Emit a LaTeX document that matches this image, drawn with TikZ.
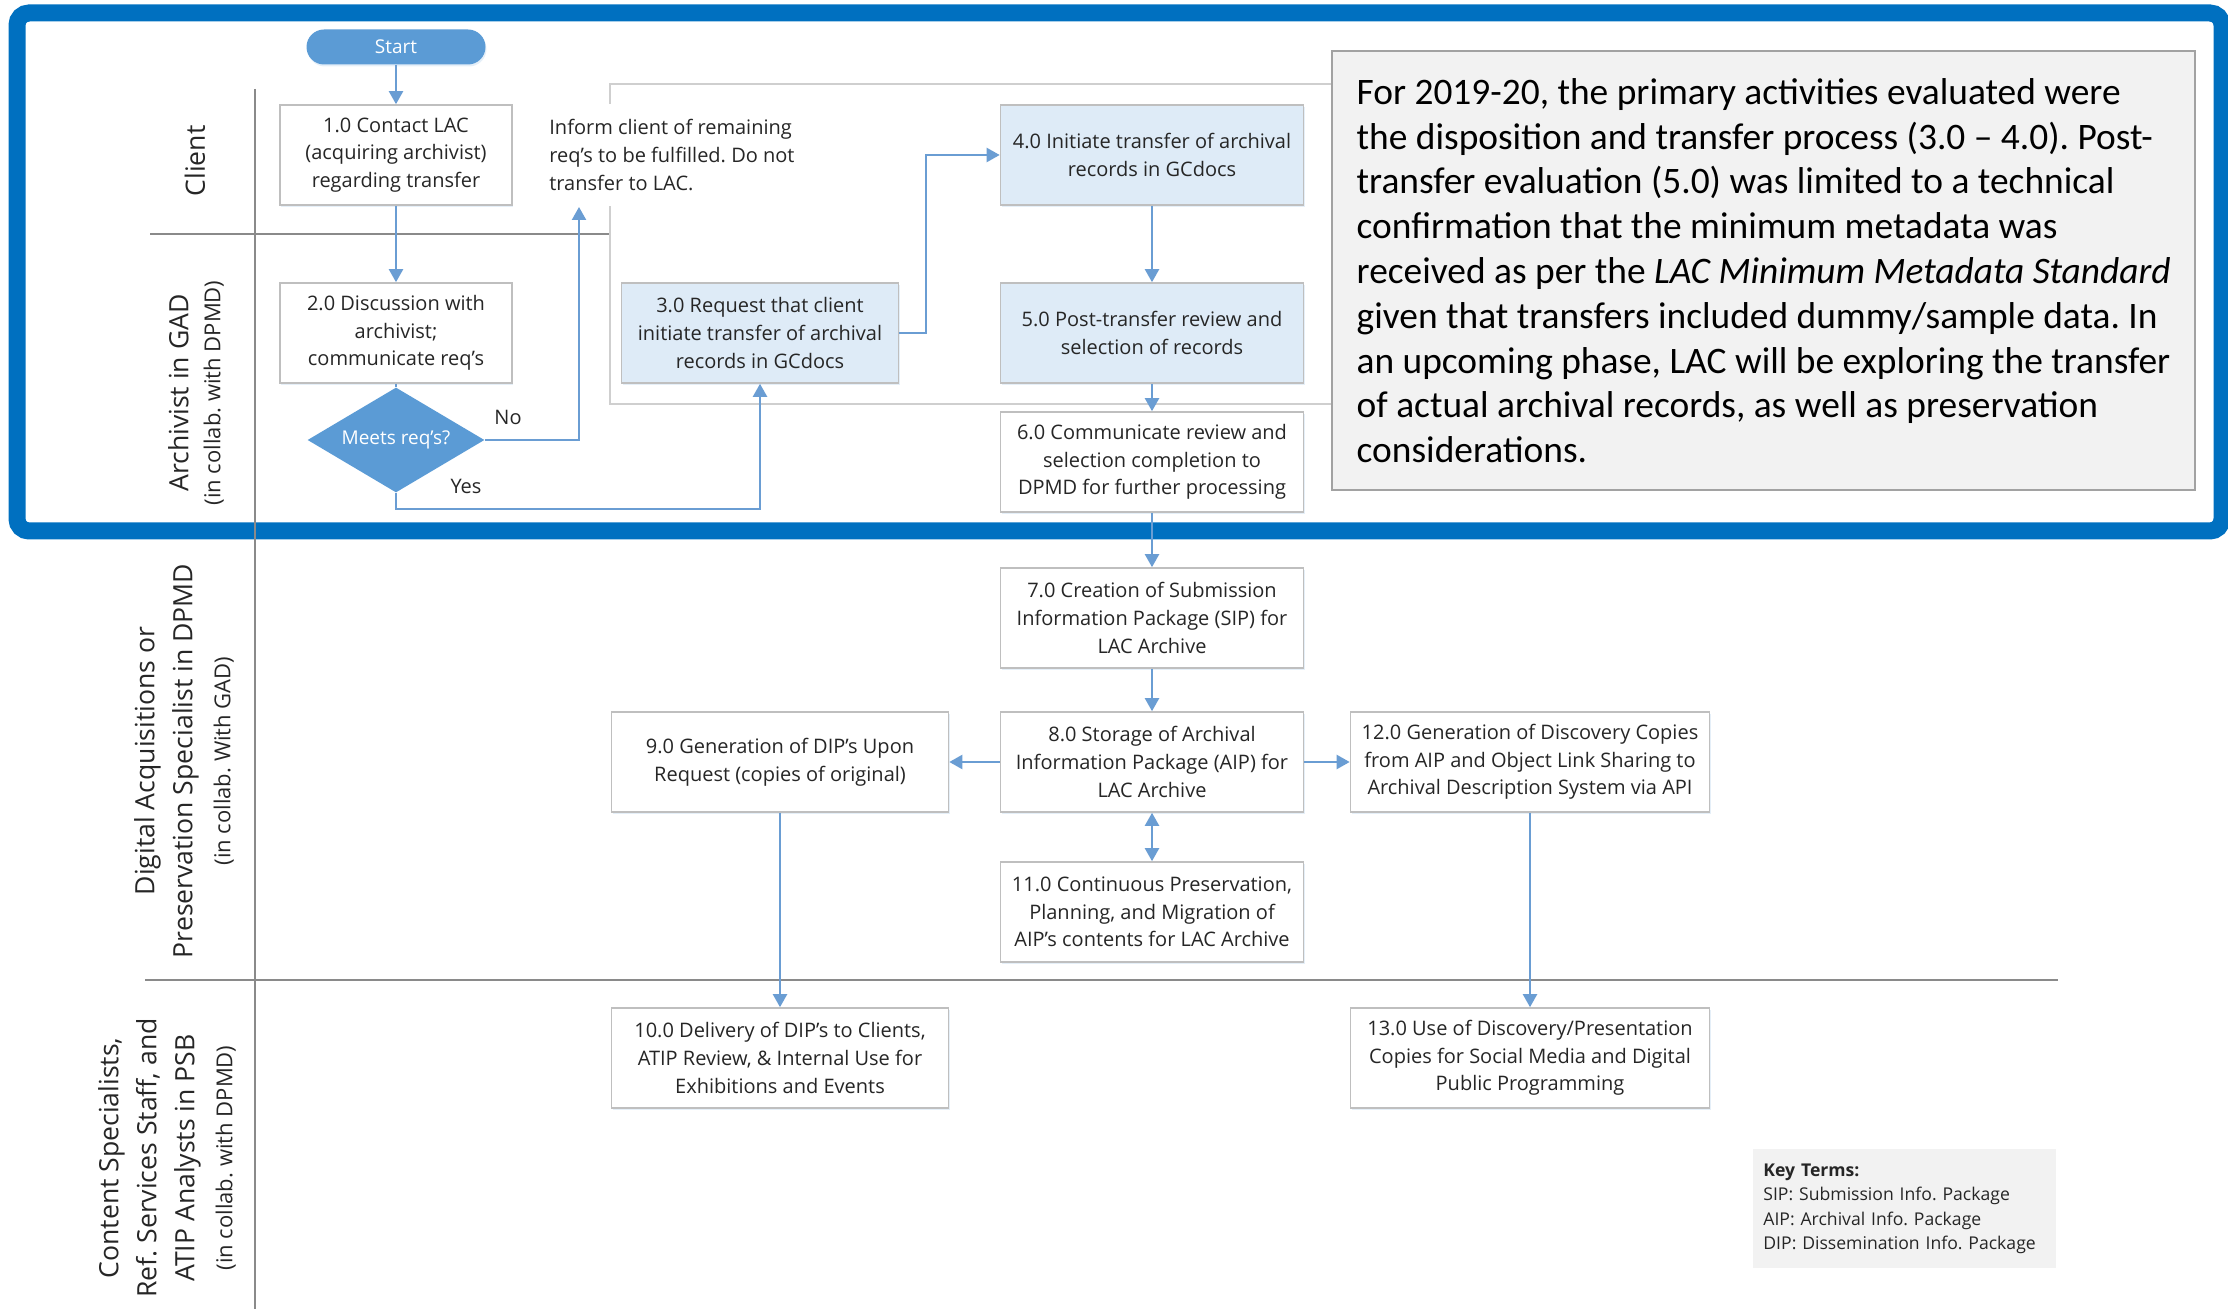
\documentclass[tikz,border=0pt]{standalone}
\usepackage{fontspec}
\setmainfont{Open Sans}
\newfontfamily\notefont{Carlito}
\usepackage{tikz}
\usetikzlibrary{
  arrows.meta,
  shapes.geometric,
  positioning,
  shadows
}
\frenchspacing
\definecolor{lacFrame}{HTML}{0070C0}
\definecolor{lacBlue}{HTML}{5B9BD5}
\definecolor{lacFlow}{HTML}{6A9DD3}
\definecolor{lacFill}{HTML}{DEEBF7}
\definecolor{lacEdge}{HTML}{BFBFBF}
\definecolor{lacLane}{HTML}{8A8A8A}
\definecolor{lacNote}{HTML}{F2F2F2}
\definecolor{lacText}{HTML}{262626}
\newcommand{\collab}[1]{{\fontsize{11}{14}\selectfont #1}}
\tikzset{
  lacbox/.style={
    draw=lacEdge, line width=0.8pt, fill=white, minimum height=50pt, minimum width=151.5pt,
    font=\fontsize{10}{13.8}\selectfont, align=center, text=lacText, inner sep=2pt,
    drop shadow={shadow xshift=0.5pt, shadow yshift=-1pt, fill=lacBlue!45, opacity=0.35}
  },
  lacfill/.style={lacbox, fill=lacFill},
  startnode/.style={
    fill=lacBlue, text=white, rounded corners=8.75pt, minimum width=89.5pt, minimum height=17.5pt,
    font=\fontsize{9.5}{11}\selectfont, inner sep=0pt,
    drop shadow={shadow xshift=0.5pt, shadow yshift=-1pt, fill=lacBlue!45, opacity=0.35}
  },
  decision/.style={
    diamond, aspect=1.7, fill=lacBlue, text=white, minimum width=88.5pt, minimum height=52.5pt,
    inner sep=0pt, font=\fontsize{9.5}{11}\selectfont
  },
  flow/.style={-{Triangle[length=6.5pt, width=7pt]}, line width=1.1pt, lacFlow},
  twoway/.style={flow, {Triangle[length=6.5pt, width=7pt]}-{Triangle[length=6.5pt, width=7pt]}},
  laneline/.style={line width=1.2pt, lacLane},
  lanelabel/.style={rotate=90, align=center, text=lacText, font=\fontsize{13.3}{19}\selectfont},
  tag/.style={font=\fontsize{10}{13.8}\selectfont, text=lacText, inner sep=0pt},
  region/.style={draw=lacEdge!75, line width=1pt, fill=white},
  lacframe/.style={draw=lacFrame, line width=8.5pt, rounded corners=6pt},
  notebox/.style={
    draw=lacEdge!85!black, line width=1.2pt, fill=lacNote, anchor=north west,
    minimum width=431.5pt, minimum height=219.5pt, align=left,
    font=\notefont\fontsize{18.7}{22.4}\selectfont, text=black
  },
  keybox/.style={
    fill=lacNote, anchor=north west, minimum width=151.5pt, minimum height=59.5pt,
    text width=141.5pt, inner xsep=5pt, align=left, font=\fontsize{8.8}{12.15}\selectfont, text=lacText
  }
}

\begin{document}
\begin{tikzpicture}[x=0.5pt, y=-0.5pt]
  \useasboundingbox (0,0) rectangle (2228,1309);
  \draw[lacframe] (17,13) rectangle (2222,531);

  % swim lanes
  \draw[laneline] (255,89) -- (255,1309);
  \draw[laneline] (150,234) -- (610,234);
  \draw[laneline] (145,980) -- (2058,980);
  \node[lanelabel] (laneClient) at (195,161) {Client};
  \node[lanelabel] (laneGAD) at (196,393) {Archivist in GAD\\[-3pt]\collab{(in collab. with DPMD)}};
  \node[lanelabel] (laneDPMD) at (184,761) {Digital Acquisitions or\\Preservation Specialist in DPMD\\\collab{(in collab. With GAD)}};
  \node[lanelabel] (lanePSB) at (167,1158) {Content Specialists,\\Ref. Services Staff, and\\ATIP Analysts in PSB\\\collab{(in collab. with DPMD)}};

  \draw[region] (610,84) rectangle (1340,404);

  % steps
  \node[startnode] (start) at (396,47) {Start};
  \node[lacbox, minimum width=116pt] (n1) at (396,155) {1.0 Contact LAC\\(acquiring archivist)\\regarding transfer};
  \node[lacbox, minimum width=116pt] (n2) at (396,333) {2.0 Discussion with\\archivist;\\communicate req’s};
  \node[decision] (meets) at (396,440) {Meets req’s?};
  \node[tag, anchor=west, fill=white, align=left, minimum height=51pt] (inform) at (549,155)
    {Inform client of remaining\\req’s to be fulfilled. Do not\\transfer to LAC.};
  \coordinate (noend) at (579,207);
  \node[lacfill, minimum width=138.5pt] (n3) at (760,333) {3.0 Request that client\\initiate transfer of archival\\records in GCdocs};
  \node[lacfill] (n4) at (1152,155) {4.0 Initiate transfer of archival\\records in GCdocs};
  \node[lacfill] (n5) at (1152,333) {5.0 Post-transfer review and\\selection of records};
  \node[lacbox] (n6) at (1152,462) {6.0 Communicate review and\\selection completion to\\DPMD for further processing};
  \node[lacbox] (n7) at (1152,618) {7.0 Creation of Submission\\Information Package (SIP) for\\LAC Archive};
  \node[lacbox] (n8) at (1152,762) {8.0 Storage of Archival\\Information Package (AIP) for\\LAC Archive};
  \node[lacbox, minimum width=168.5pt] (n9) at (780,762) {9.0 Generation of DIP’s Upon\\Request (copies of original)};
  \node[lacbox, minimum width=168.5pt] (n10) at (780,1058) {10.0 Delivery of DIP’s to Clients,\\ATIP Review, \& Internal Use for\\Exhibitions and Events};
  \node[lacbox] (n11) at (1152,912) {11.0 Continuous Preservation,\\Planning, and Migration of\\AIP’s contents for LAC Archive};
  \node[lacbox, minimum width=179.5pt] (n12) at (1530,762) {12.0 Generation of Discovery Copies\\from AIP and Object Link Sharing to\\Archival Description System via API};
  \node[lacbox, minimum width=179.5pt] (n13) at (1530,1058) {13.0 Use of Discovery/Presentation\\Copies for Social Media and Digital\\Public Programming};

  % connectors
  \draw[flow] (start) -- (n1);
  \draw[flow] (n1) -- (n2);
  \draw[flow, -] (n2) -- (meets);
  \draw[flow] (meets.east) -| (noend);
  \draw[flow] (meets.south) -- ++(0,16) -| (n3.south);
  \draw[flow] (n3.east) -- ++(27,0) |- (n4.west);
  \foreach \a/\b in {n4/n5, n5/n6, n6/n7, n7/n8, n9/n10, n12/n13}
    \draw[flow] (\a) -- (\b);
  \draw[flow] (n8) -- (n9);
  \draw[flow] (n8) -- (n12);
  \draw[twoway] (n8) -- (n11);
  \node[tag] (no) at (508,417) {No};
  \node[tag] (yes) at (466,486) {Yes};

  % notes
  \node[notebox] (scope) at (1331,50) {For 2019-20, the primary activities evaluated were\\
    the disposition and transfer process (3.0 – 4.0). Post-\\
    transfer evaluation (5.0) was limited to a technical\\
    confirmation that the minimum metadata was\\
    received as per the \textit{LAC Minimum Metadata Standard}\\
    given that transfers included dummy/sample data. In\\
    an upcoming phase, LAC will be exploring the transfer\\
    of actual archival records, as well as preservation\\
    considerations.};
  \node[keybox] (key) at (1753,1149) {\textbf{Key Terms:}\\SIP: Submission Info. Package\\AIP: Archival Info. Package\\DIP: Dissemination Info. Package};
\end{tikzpicture}
\end{document}
